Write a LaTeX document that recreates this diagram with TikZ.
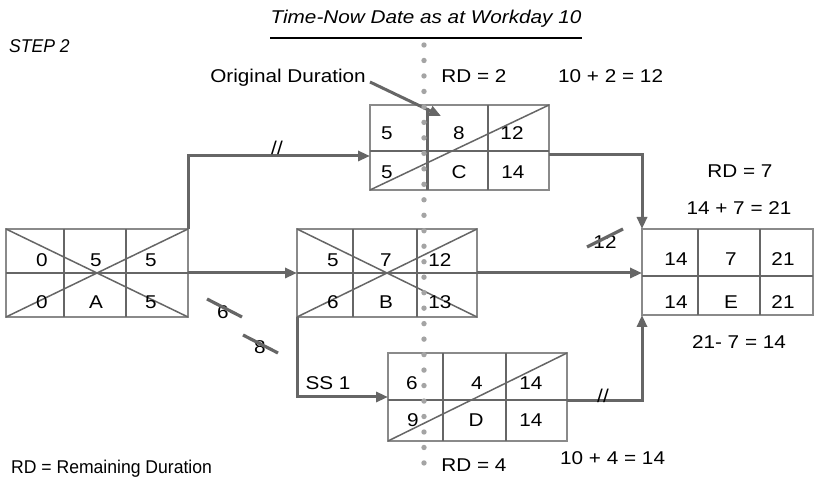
\documentclass[tikz,border=0pt]{standalone}
\usepackage{fontspec}
\setmainfont{Liberation Sans}[FakeStretch=1.12]
\newfontfamily\narrowfont{Liberation Sans}[FakeStretch=0.95]
\usetikzlibrary{arrows.meta,calc}
\definecolor{ln}{HTML}{666666}
\definecolor{lnl}{HTML}{8A8A8A}
\definecolor{dotc}{HTML}{A4A4A4}
\begin{document}
\begin{tikzpicture}[x=1pt,y=-1pt,
  txt/.style={inner sep=0pt, text height=13pt, text depth=0pt, font=\fontsize{18.5}{22}\selectfont},
  itxt/.style={txt, font=\fontsize{18.5}{22}\selectfont\itshape},
  ntxt/.style={txt, font=\narrowfont\fontsize{18.5}{22}\selectfont},
  boxn/.style={draw=lnl, line width=1.3pt, inner sep=0pt, outer sep=0pt},
  div/.style={draw=ln, line width=2.2pt},
  diag/.style={draw=ln, line width=1.5pt},
  conn/.style={draw=ln, line width=3pt, -{Triangle[length=12pt,width=10pt]}},
  strike/.style={draw=ln, line width=3.2pt}]
\useasboundingbox (0,0) rectangle (815,478);
\fill[white] (0,0) rectangle (815,478);

% ---------- boxes ----------
\node[boxn, minimum width=182pt, minimum height=88pt] (A) at (97,273) {};
\node[boxn, minimum width=180pt, minimum height=88pt] (B) at (387,273) {};
\node[boxn, minimum width=179pt, minimum height=85pt] (C) at (459.5,147.5) {};
\node[boxn, minimum width=179pt, minimum height=88pt] (D) at (477.5,397) {};
\node[boxn, minimum width=171pt, minimum height=86pt] (E) at (727.5,272) {};

% A
\draw[div] ($(A.north west)+(58,0)$) -- ($(A.south west)+(58,0)$);
\draw[div] ($(A.north west)+(120,0)$) -- ($(A.south west)+(120,0)$);
\draw[div] (A.west) -- (A.east);
\draw[diag] (A.north west) -- (A.south east);
\draw[diag] (A.south west) -- (A.north east);
% B
\draw[div] ($(B.north west)+(56,0)$) -- ($(B.south west)+(56,0)$);
\draw[div] ($(B.north west)+(120,0)$) -- ($(B.south west)+(120,0)$);
\draw[div] (B.west) -- (B.east);
\draw[diag] (B.north west) -- (B.south east);
\draw[diag] (B.south west) -- (B.north east);
% C
\draw[draw=ln, line width=3pt] ($(C.north west)+(57,3)$) -- ($(C.south west)+(57,0)$);
\draw[div] ($(C.north west)+(118,0)$) -- ($(C.south west)+(118,0)$);
\draw[div] ($(C.west)+(0,3.5)$) -- ($(C.east)+(0,3.5)$);
\draw[diag] (C.south west) -- (C.north east);
% D
\draw[div] ($(D.north west)+(55,0)$) -- ($(D.south west)+(55,0)$);
\draw[div] ($(D.north west)+(118,0)$) -- ($(D.south west)+(118,0)$);
\draw[div] ($(D.west)+(0,3)$) -- ($(D.east)+(0,3)$);
\draw[diag] (D.south west) -- (D.north east);
% E
\draw[div] ($(E.north west)+(56,0)$) -- ($(E.south west)+(56,0)$);
\draw[div] ($(E.north west)+(118,0)$) -- ($(E.south west)+(118,0)$);
\draw[div] ($(E.west)+(0,4)$) -- ($(E.east)+(0,4)$);

% ---------- cell texts ----------
\node[txt] (a1) at (42,260) {0};
\node[txt] (a2) at (96,260) {5};
\node[txt] (a3) at (151,260) {5};
\node[txt] (a4) at (42,302) {0};
\node[txt] (a5) at (96,302) {A};
\node[txt] (a6) at (151,302) {5};

\node[txt] (b1) at (333,260) {5};
\node[txt] (b2) at (386,260) {7};
\node[txt] (b3) at (440,260) {12};
\node[txt] (b4) at (333,302) {6};
\node[txt] (b5) at (386,302) {B};
\node[txt] (b6) at (440,302) {13};

\node[txt] (c1) at (387,133) {5};
\node[txt] (c2) at (459,133) {8};
\node[txt] (c3) at (512,133) {12};
\node[txt] (c4) at (387,172) {5};
\node[txt] (c5) at (459,172) {C};
\node[txt] (c6) at (513,172) {14};

\node[txt] (d1) at (412,383) {6};
\node[txt] (d2) at (477,383) {4};
\node[txt] (d3) at (531,383) {14};
\node[txt] (d4) at (413,420) {9};
\node[txt] (d5) at (476,420) {D};
\node[txt] (d6) at (531,420) {14};

\node[txt] (e1) at (676,259) {14};
\node[txt] (e2) at (731,259) {7};
\node[txt] (e3) at (783,259) {21};
\node[txt] (e4) at (676,302) {14};
\node[txt] (e5) at (731,302) {E};
\node[txt] (e6) at (783,302) {21};

% ---------- connectors ----------
\draw[conn] (A.north east) |- ($(C.west)+(0,8.5)$);
\draw[conn] (A.east) -- (B.west);
\draw[conn] (B.east) -- (B.east -| E.west);
\draw[conn] ($(C.east)+(0,7.5)$) -| (E.north west);
\draw[conn] (B.south west) |- (D.west);
\draw[conn] ($(D.east)+(0,4)$) -| (E.south west);

\node[txt] (m1) at (277,148) {//};
\node[txt] (m2) at (603,396) {//};

% ---------- labels ----------
\node[itxt] (title) at (426,17) {Time-Now Date as at Workday 10};
\draw[black, line width=1.8pt] ($(title.south west)+(0,14)$) -- ($(title.south east)+(0,14)$);
\node[txt, font=\narrowfont\fontsize{18.5}{22}\selectfont\itshape, anchor=west] (step) at (9,46) {STEP 2};
\node[txt, anchor=east] (od) at (366,76) {Original Duration};
\coordinate (odtip) at (441,116);
\draw[conn] ($(od.east)+(4,6)$) -- (odtip);
\node[txt] (rd2) at (474,76) {RD = 2};
\node[txt, anchor=west] (sum1) at (558,76) {10 + 2 = 12};
\node[txt] (rd7) at (740,171) {RD = 7};
\node[txt] (sum2) at (739,208) {14 + 7 = 21};
\node[txt] (sum3) at (739,342) {21- 7 = 14};
\node[txt] (ss) at (328,383) {SS 1};
\node[txt] (rd4) at (474,465) {RD = 4};
\node[txt, anchor=west] (sum4) at (560,458) {10 + 4 = 14};
\node[ntxt, anchor=west] (legend) at (11,467) {RD = Remaining Duration};

% struck values
\node[txt] (s6) at (223,312) {6};
\draw[strike] (207,299) -- (242,317);
\node[txt] (s8) at (260,347) {8};
\draw[strike] (243,335) -- (278,353);
\node[txt] (s12) at (605,242) {12};
\draw[strike] (587,247) -- (623,229);

% ---------- time-now dotted line ----------
\foreach \i in {0,...,27} \fill[dotc] (424,45+\i*15.48) circle (2.7);
\end{tikzpicture}
\end{document}
